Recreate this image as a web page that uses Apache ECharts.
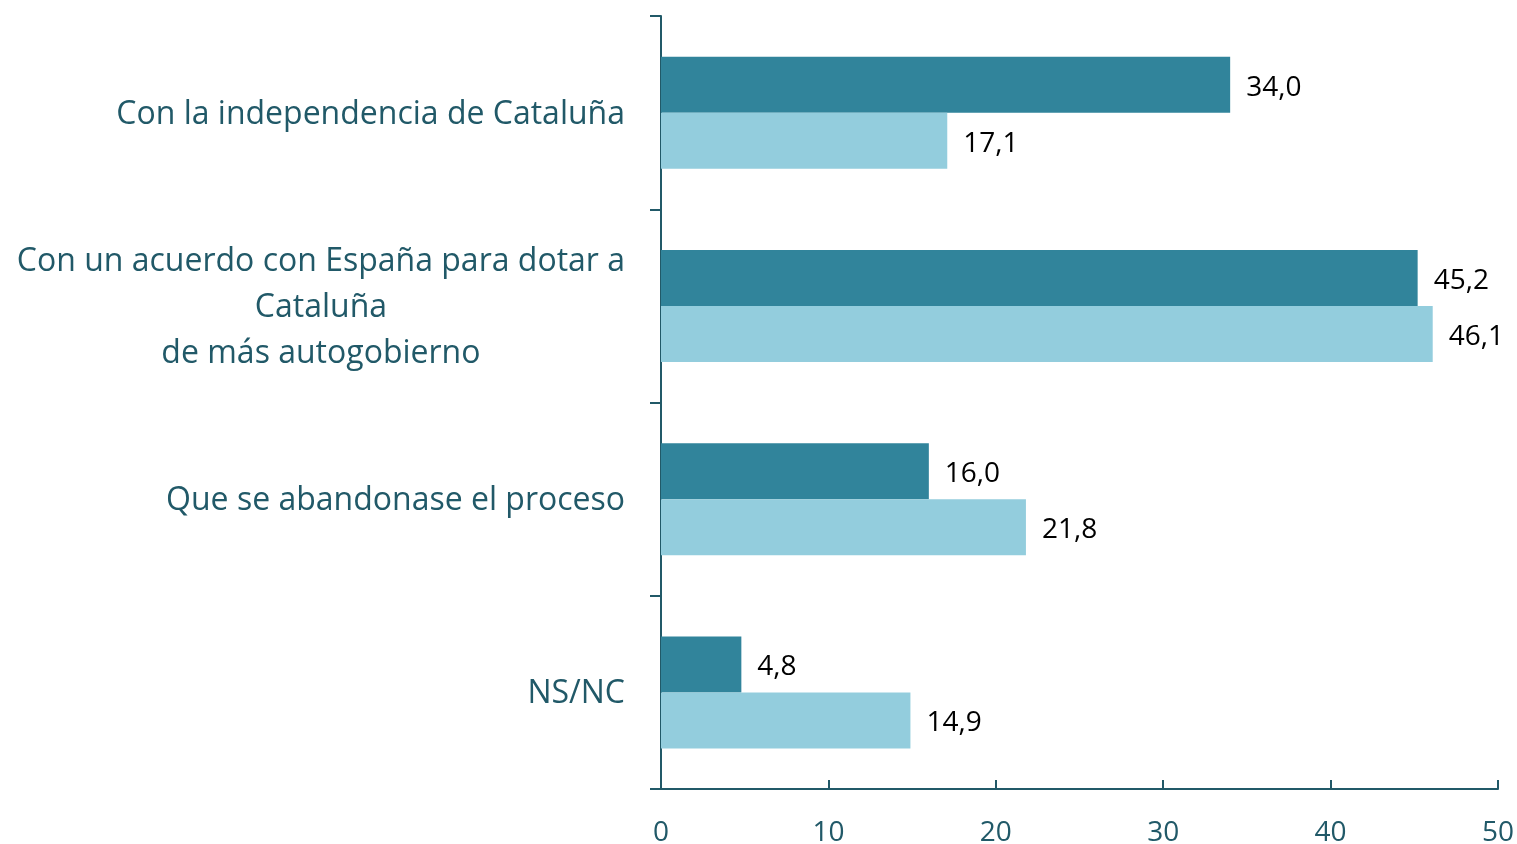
<!DOCTYPE html>
<html>
<head>
<meta charset="utf-8">
<script src="https://cdn.jsdelivr.net/npm/echarts@6/dist/echarts.min.js"></script>
<style>
  html, body { margin: 0; padding: 0; background: #fff; }
  #chart { width: 1517px; height: 844px; }
</style>
</head>
<body>
<div id="chart"></div>
<script>
const categories = [
  "Con la independencia de Cataluña",
  "Con un acuerdo con España para dotar a\nCataluña\nde más autogobierno",
  "Que se abandonase el proceso",
  "NS/NC"
];
const darkValues = [34.0, 45.2, 16.0, 4.8];
const lightValues = [17.1, 46.1, 21.8, 14.9];

const FONT = "Open Sans";
const TEAL = "#215968";
const catSize = 32;

// widest line of the wrapped label, so its lines can be centred on each other
const ctx = document.createElement("canvas").getContext("2d");
ctx.font = catSize + "px '" + FONT + "'";
let wrapWidth = 0;
categories.forEach((c) => {
  if (c.indexOf("\n") >= 0) {
    c.split("\n").forEach((l) => { wrapWidth = Math.max(wrapWidth, ctx.measureText(l).width); });
  }
});

const fmt = (p) => p.value.toFixed(1).replace(".", ",");

const chart = echarts.init(document.getElementById("chart"));

chart.setOption({
  animation: false,
  textStyle: { fontFamily: FONT },
  grid: { left: 661, right: 19, top: 16, bottom: 55, outerBoundsMode: "none" },
  xAxis: {
    type: "value",
    min: 0,
    max: 50,
    interval: 10,
    axisLine: { show: true, lineStyle: { color: TEAL, width: 2 } },
    axisTick: { show: true, inside: true, length: 9, lineStyle: { color: TEAL, width: 2 } },
    axisLabel: { color: TEAL, fontSize: 28, margin: 30, fontFamily: FONT },
    splitLine: { show: false }
  },
  yAxis: {
    type: "category",
    inverse: true,
    data: categories,
    axisLine: { lineStyle: { color: TEAL, width: 2 } },
    axisTick: { show: true, length: 11, lineStyle: { color: TEAL, width: 2 } },
    axisLabel: {
      color: TEAL,
      fontSize: catSize,
      fontFamily: FONT,
      margin: 36,
      lineHeight: 46,
      padding: [4, 0, 0, 0],
      formatter: (v) => v.indexOf("\n") < 0 ? v : v.split("\n").map((l) => "{m|" + l + "}").join("\n"),
      rich: {
        m: { width: wrapWidth, align: "center", color: TEAL, fontSize: catSize, fontFamily: FONT, lineHeight: 46 }
      }
    }
  },
  series: [
    {
      type: "bar",
      data: darkValues,
      barWidth: 56,
      barGap: "0%",
      itemStyle: { color: "#31849B" },
      label: { show: true, position: "right", distance: 16, offset: [0, 3], color: "#000", fontSize: 28, fontFamily: FONT, formatter: fmt }
    },
    {
      type: "bar",
      data: lightValues,
      barWidth: 56,
      barGap: "0%",
      itemStyle: { color: "#93CDDD" },
      label: { show: true, position: "right", distance: 16, offset: [0, 3], color: "#000", fontSize: 28, fontFamily: FONT, formatter: fmt }
    }
  ]
});
</script>
</body>
</html>
